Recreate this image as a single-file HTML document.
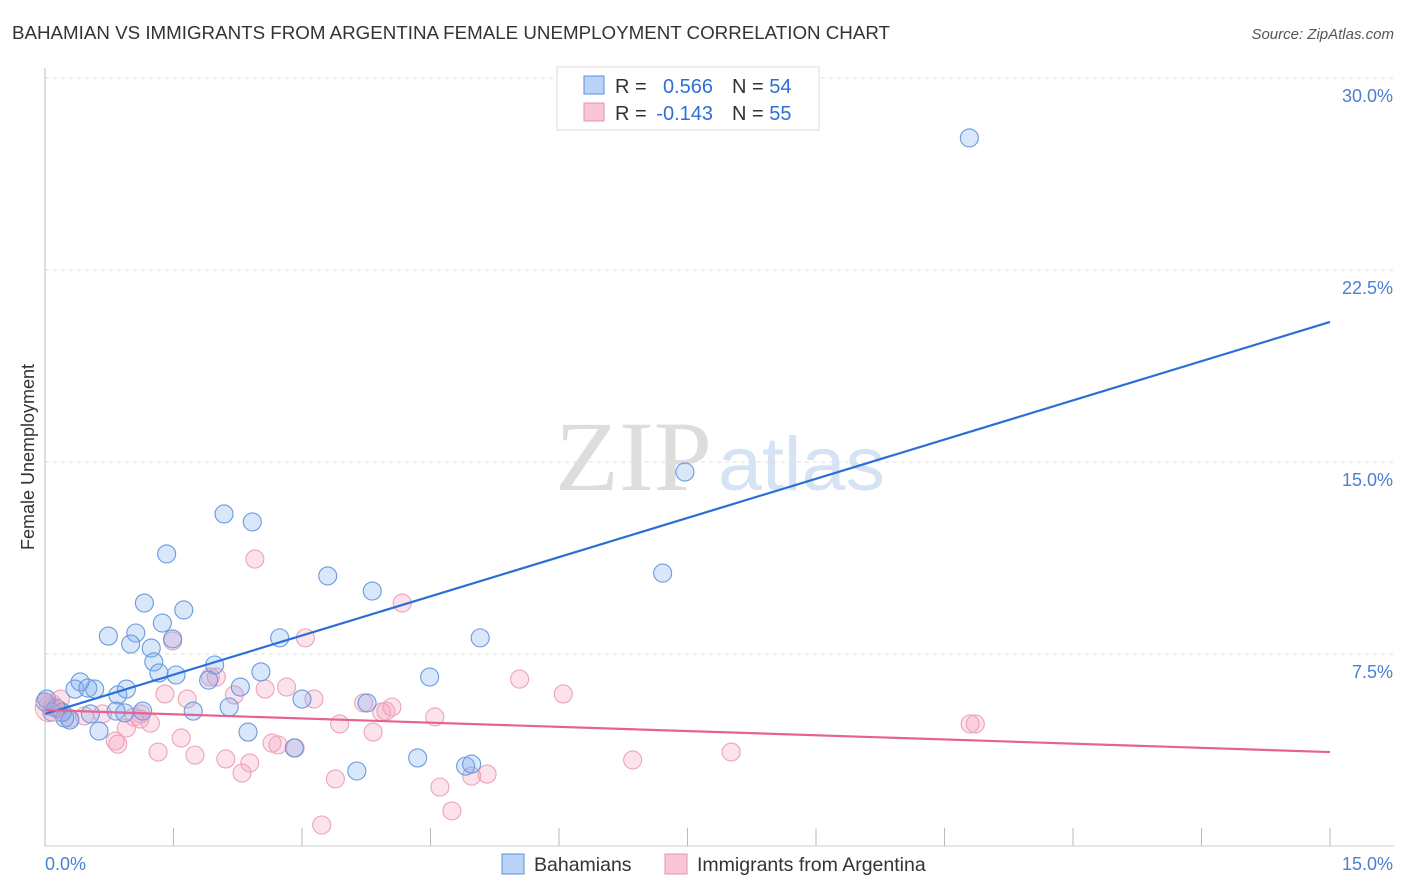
<!DOCTYPE html>
<html><head><meta charset="utf-8">
<style>
body{margin:0;background:#fff;font-family:"Liberation Sans",sans-serif;}
svg{display:block}
</style></head><body>
<svg id="chart" width="1406" height="892" xmlns="http://www.w3.org/2000/svg">
<text x="12" y="39" font-size="18.7" fill="#333" textLength="878" lengthAdjust="spacingAndGlyphs">BAHAMIAN VS IMMIGRANTS FROM ARGENTINA FEMALE UNEMPLOYMENT CORRELATION CHART</text>
<text x="1394" y="39" font-size="15" fill="#555" font-style="italic" text-anchor="end">Source: ZipAtlas.com</text>
<text x="712" y="490" font-size="100" fill="#ddd" font-family="Liberation Serif" text-anchor="end" textLength="157" lengthAdjust="spacingAndGlyphs">ZIP</text>
<text x="718" y="490" font-size="76" fill="#d5e3f5" textLength="167" lengthAdjust="spacingAndGlyphs">atlas</text>
<g id="grid"></g>
<g id="pts"></g>
<g id="lines"></g>
<text transform="translate(34,457) rotate(-90)" font-size="18" fill="#333" text-anchor="middle">Female Unemployment</text>
<text x="45" y="870" font-size="18" fill="#4a7fd4">0.0%</text>
<text x="1393" y="870" font-size="18" fill="#4a7fd4" text-anchor="end">15.0%</text>
<g>
<rect x="557" y="67" width="262" height="63" fill="#fff" stroke="#ddd"/>
<rect x="584" y="76" width="20" height="18" fill="#b8d3f7" stroke="#5b8fd8"/>
<rect x="584" y="103" width="20" height="18" fill="#f9c6d5" stroke="#e891ab"/>
<text x="615" y="93" font-size="20" fill="#333">R = </text>
<text x="713" y="93" font-size="20" fill="#2f6fd6" text-anchor="end">0.566</text>
<text x="732" y="93" font-size="20" fill="#333">N = <tspan fill="#2f6fd6">54</tspan></text>
<text x="615" y="120" font-size="20" fill="#333">R = </text>
<text x="713" y="120" font-size="20" fill="#2f6fd6" text-anchor="end">-0.143</text>
<text x="732" y="120" font-size="20" fill="#333">N = <tspan fill="#2f6fd6">55</tspan></text>
</g>
<g>
<rect x="502" y="854" width="22" height="20" fill="#b8d3f7" stroke="#5b8fd8"/>
<text x="534" y="871" font-size="19.5" fill="#333">Bahamians</text>
<rect x="665" y="854" width="22" height="20" fill="#f9c6d5" stroke="#e891ab"/>
<text x="697" y="871" font-size="19.5" fill="#333">Immigrants from Argentina</text>
</g>
</svg>
<script>
const yTicks=[7.5,15,22.5,30];
const yTickLabels=["7.5%","15.0%","22.5%","30.0%"];
const xTicks=[0,1.5,3,4.5,6,7.5,9,10.5,12,13.5,15];
const blueX=[10.79,7.47,7.21,2.09,2.42,1.42,3.30,3.82,1.16,1.62,1.37,0.74,1.06,1.00,1.24,1.49,2.74,5.08,1.27,1.33,1.53,1.98,2.52,1.91,4.49,0.41,0.35,0.50,0.58,0.95,0.85,3.00,2.15,2.28,1.73,1.14,0.83,0.93,0.08,0.20,0.29,0.02,0.13,0.63,2.37,2.91,4.35,3.64,4.91,4.98,3.76,0.23,0.53,0.00];
const blueY=[27.66,14.61,10.66,12.97,12.66,11.41,10.55,9.96,9.49,9.22,8.71,8.20,8.32,7.89,7.73,8.09,8.13,8.13,7.19,6.76,6.68,7.07,6.80,6.48,6.60,6.41,6.13,6.17,6.13,6.13,5.90,5.74,5.43,6.21,5.27,5.27,5.27,5.20,5.23,5.23,4.92,5.74,5.39,4.49,4.45,3.83,3.44,2.93,3.12,3.20,5.59,5.00,5.16,5.63];
const pinkX=[2.45,4.17,3.04,1.49,5.54,6.05,1.93,2.00,1.40,1.66,2.21,2.57,2.82,3.14,3.72,3.93,4.05,3.98,4.55,3.44,3.83,1.23,0.95,0.82,0.85,1.59,1.32,1.75,2.11,2.39,2.30,2.65,2.72,2.92,3.39,4.61,4.98,5.16,4.75,3.23,6.86,8.01,10.80,10.86,0.08,0.15,0.04,0.20,0.29,0.46,0.67,1.04,1.11,1.12,0.18];
const pinkY=[11.21,9.49,8.13,8.01,6.52,5.94,6.60,6.60,5.94,5.74,5.90,6.13,6.21,5.74,5.59,5.23,5.43,5.27,5.04,4.77,4.45,4.80,4.61,4.10,3.98,4.22,3.67,3.55,3.40,3.24,2.85,4.02,3.95,3.83,2.62,2.30,2.73,2.81,1.37,0.82,3.36,3.67,4.77,4.77,5.43,5.35,5.51,5.20,5.00,5.08,5.16,5.04,4.96,5.16,5.74];
const blueLine=[0,5.16,15,20.47];
const pinkLine=[0,5.31,15,3.67];
const X=v=>45+v*(1285/15);
const Y=v=>846-v*(768/30);
const NS="http://www.w3.org/2000/svg";
function mk(t,a,p){const e=document.createElementNS(NS,t);for(const k in a)e.setAttribute(k,a[k]);p.appendChild(e);return e;}
const grid=document.getElementById('grid');
const ax=mk('line',{x1:45,y1:68,x2:45,y2:846,stroke:'#bbb'},grid);


const bx=mk('line',{x1:45,y1:846,x2:1394,y2:846,stroke:'#ccc'},grid);


yTicks.forEach((t,i)=>{
 const g=mk('line',{x1:45,y1:Y(t),x2:1394,y2:Y(t),stroke:'#ddd','stroke-dasharray':'4,4'},grid);
 
 
 const l=mk('text',{x:1393,y:Y(t)+24,'font-size':18,fill:'#4a7fd4','text-anchor':'end'},grid);
 l.textContent=yTickLabels[i];
 
 
});
xTicks.forEach(t=>{
 const k=mk('line',{x1:X(t),y1:828,x2:X(t),y2:846,stroke:'#bbb'},grid);
 
 
});
const pts=document.getElementById('pts');
pinkX.forEach((x,i)=>{
 const c=mk('circle',{cx:X(x),cy:Y(pinkY[i]),r:9,fill:'rgba(244,160,188,0.3)',stroke:'#eda3ba','stroke-width':1.1},pts);
 
 
});
blueX.forEach((x,i)=>{
 const c=mk('circle',{cx:X(x),cy:Y(blueY[i]),r:9,fill:'rgba(120,170,240,0.28)',stroke:'#6a9ade','stroke-width':1.1},pts);
 
 
});
const big=mk('circle',{cx:X(0.05),cy:Y(5.4),r:14,fill:'rgba(244,160,188,0.3)',stroke:'#eda3ba'},pts);


const lines=document.getElementById('lines');
const bl=mk('line',{x1:X(blueLine[0]),y1:Y(blueLine[1]),x2:X(blueLine[2]),y2:Y(blueLine[3]),stroke:'#2a6fd6','stroke-width':2.2},lines);


const pl=mk('line',{x1:X(pinkLine[0]),y1:Y(pinkLine[1]),x2:X(pinkLine[2]),y2:Y(pinkLine[3]),stroke:'#e5638e','stroke-width':2.2},lines);


</script>
</body></html>
